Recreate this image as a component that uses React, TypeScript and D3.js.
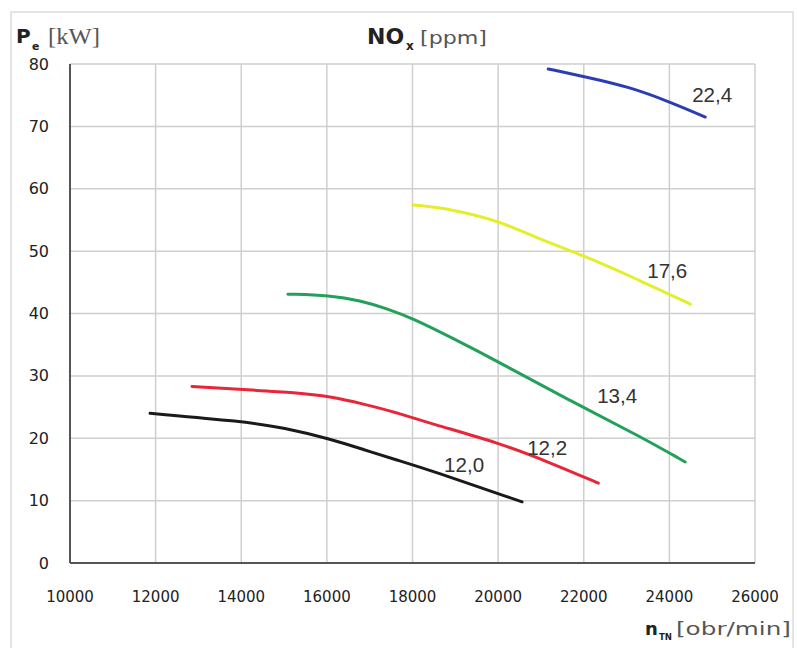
import React from "react";
import * as d3 from "d3";

const xTicks = [10000, 12000, 14000, 16000, 18000, 20000, 22000, 24000, 26000];
const yTicks = [0, 10, 20, 30, 40, 50, 60, 70, 80];

const seriesNames = ["22,4", "17,6", "13,4", "12,2", "12,0"];
const seriesColors = ["#2b3db5", "#e4ee2c", "#23a05a", "#e8263a", "#1a1a1a"];

const blueN = [21170, 22080, 23080, 24020, 24840];
const blueP = [79.2, 77.9, 76.3, 73.9, 71.5];
const yellowN = [18010, 18880, 20050, 20820, 22030, 23150, 24490];
const yellowP = [57.4, 56.8, 54.8, 52.3, 49.2, 45.8, 41.5];
const greenN = [15090, 16070, 16780, 17400, 18010, 18950, 20050, 21680, 23320, 24370];
const greenP = [43.1, 42.9, 42.1, 40.8, 39.2, 36.0, 32.1, 26.0, 20.3, 16.2];
const redN = [12850, 14040, 15300, 16070, 16850, 17640, 18400, 20050, 21210, 22340];
const redP = [28.3, 27.8, 27.3, 26.7, 25.5, 24.1, 22.4, 19.2, 16.1, 12.8];
const blackN = [11870, 14040, 15000, 16070, 16850, 17640, 18400, 20560];
const blackP = [24.0, 22.7, 21.7, 19.9, 18.2, 16.5, 14.9, 9.8];

const labelN = [25000, 23950, 22780, 21145, 19205];
const labelP = [73.9, 45.7, 25.6, 17.3, 14.6];

const seriesN = [blueN, yellowN, greenN, redN, blackN];
const seriesP = [blueP, yellowP, greenP, redP, blackP];

export default function App() {
  const x = d3.scaleLinear().domain([10000, 26000]).range([70, 755]);
  const y = d3.scaleLinear().domain([0, 80]).range([563, 64]);
  const line = d3
    .line<[number, number]>()
    .x((d) => x(d[0]))
    .y((d) => y(d[1]))
    .curve(d3.curveBasis);

  const tickFont = "'DejaVu Sans', Verdana, sans-serif";

  return (
    <svg
      width={797}
      height={648}
      style={{ position: "absolute", left: 0, top: 0, background: "#fff" }}
    >
      <rect x={11} y={12} width={782} height={660} fill="#fff" stroke="#dcdcdc" strokeWidth={1.5} />
      {xTicks.slice(1).map((t) => (
        <line key={"gx" + t} x1={x(t)} x2={x(t)} y1={y(80)} y2={y(0)} stroke="#cfcfcf" strokeWidth={1.5} />
      ))}
      {yTicks.slice(1).map((t) => (
        <line key={"gy" + t} x1={x(10000)} x2={x(26000)} y1={y(t)} y2={y(t)} stroke="#cfcfcf" strokeWidth={1.5} />
      ))}
      <line x1={x(10000)} x2={x(10000)} y1={y(80)} y2={y(0)} stroke="#555" strokeWidth={2} />
      <line x1={x(10000)} x2={x(26000)} y1={y(0)} y2={y(0)} stroke="#555" strokeWidth={2} />
      {yTicks.map((t) => (
        <text
          key={"ty" + t}
          x={49}
          y={y(t) + 5.5}
          textAnchor="end"
          fontFamily={tickFont}
          fontSize={16}
          fill="#222"
        >
          {t}
        </text>
      ))}
      {xTicks.map((t) => (
        <text
          key={"tx" + t}
          x={x(t)}
          y={602}
          textAnchor="middle"
          fontFamily={tickFont}
          fontSize={15}
          fill="#222"
        >
          {t}
        </text>
      ))}
      {seriesN.map((ns, i) => (
        <path
          key={"s" + i}
          d={line(ns.map((n, j) => [n, seriesP[i][j]] as [number, number])) || ""}
          fill="none"
          stroke={seriesColors[i]}
          strokeWidth={3}
          strokeLinecap="round"
        />
      ))}
      {seriesNames.map((s, i) => (
        <text
          key={"l" + i}
          x={x(labelN[i])}
          y={y(labelP[i])}
          textAnchor="middle"
          fontFamily="'Liberation Sans', Arial, sans-serif"
          fontSize={20}
          fill="#333"
          textLength={40}
          lengthAdjust="spacingAndGlyphs"
        >
          {s}
        </text>
      ))}
      <text x={16} y={43} fontFamily={tickFont} fontSize={20} fontWeight="bold" fill="#222">
        P
      </text>
      <text x={32} y={50} fontFamily={tickFont} fontSize={11} fontWeight="bold" fill="#222">
        e
      </text>
      <text
        x={48}
        y={44}
        fontFamily="'Liberation Serif', 'Times New Roman', serif"
        fontSize={23}
        fill="#555"
        textLength={52}
        lengthAdjust="spacingAndGlyphs"
      >
        [kW]
      </text>
      <text x={367} y={44} fontFamily={tickFont} fontSize={22} fontWeight="bold" fill="#222">
        NO
      </text>
      <text x={406} y={50} fontFamily={tickFont} fontSize={12} fontWeight="bold" fill="#222">
        x
      </text>
      <text
        x={420}
        y={44}
        fontFamily={tickFont}
        fontSize={18}
        fill="#555"
        textLength={67}
        lengthAdjust="spacingAndGlyphs"
      >
        [ppm]
      </text>
      <text x={645} y={635} fontFamily={tickFont} fontSize={18} fontWeight="bold" fill="#222">
        n
      </text>
      <text
        x={659}
        y={640}
        fontFamily={tickFont}
        fontSize={9}
        fontWeight="bold"
        fill="#222"
        textLength={13}
        lengthAdjust="spacingAndGlyphs"
      >
        TN
      </text>
      <text
        x={676}
        y={635}
        fontFamily={tickFont}
        fontSize={18}
        fill="#555"
        textLength={115}
        lengthAdjust="spacingAndGlyphs"
      >
        [obr/min]
      </text>
    </svg>
  );
}
